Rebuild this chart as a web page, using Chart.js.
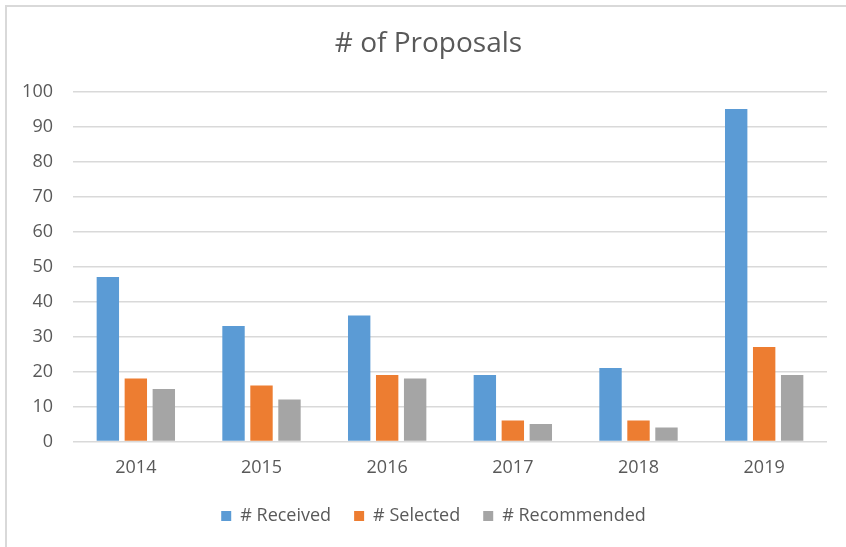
<!DOCTYPE html>
<html>
<head>
<meta charset="utf-8">
<script src="https://cdn.jsdelivr.net/npm/chart.js@4"></script>
<style>
    body { margin: 0; background: #ffffff; }
    #frame {
        position: absolute; left: 5px; top: 5px; width: 841px; height: 542px;
        border-top: 2px solid #d9d9d9; border-left: 2px solid #d9d9d9;
    }
    #wrap { position: absolute; left: 0; top: 0; width: 846px; height: 547px; }
</style>
</head>
<body>
<div id="frame"></div>
<div id="wrap"><canvas id="grafico" width="846" height="547"></canvas></div>
<script>
// Dados do gráfico
const anos = ['2014', '2015', '2016', '2017', '2018', '2019'];
const recebidas = [47, 33, 36, 19, 21, 95];
const selecionadas = [18, 16, 19, 6, 6, 27];
const recomendadas = [15, 12, 18, 5, 4, 19];

const CORES = {
    azul: '#5b9bd5',
    laranja: '#ed7d31',
    cinza: '#a5a5a5',
    grade: '#d9d9d9',
    texto: '#595959'
};

const FONTE = '"Open Sans", "Liberation Sans", sans-serif';

function serie(label, dados, cor) {
    return {
        label: label,
        data: dados,
        backgroundColor: cor,
        borderWidth: 0,
        categoryPercentage: 0.668,
        barPercentage: 0.8
    };
}

// Centraliza título e legenda no quadro inteiro (como no original)
const deslocaCaixas = {
    id: 'deslocaCaixas',
    afterLayout(chart) {
        if (chart.titleBlock) {
            chart.titleBlock.left += 15;
            chart.titleBlock.right += 15;
        }
        if (chart.legend) {
            chart.legend.left += 20;
            chart.legend.right += 20;
        }
    }
};

new Chart(document.getElementById('grafico'), {
    type: 'bar',
    data: {
        labels: anos,
        datasets: [
            serie('# Received', recebidas, CORES.azul),
            serie('# Selected', selecionadas, CORES.laranja),
            serie('# Recommended', recomendadas, CORES.cinza)
        ]
    },
    plugins: [deslocaCaixas],
    options: {
        responsive: false,
        animation: false,
        layout: {
            padding: { left: 0, right: 19, top: 0, bottom: 12 }
        },
        plugins: {
            title: {
                display: true,
                text: '# of Proposals',
                color: CORES.texto,
                font: { family: FONTE, size: 28, weight: 'normal' },
                padding: { top: 27, bottom: 31 }
            },
            legend: {
                position: 'bottom',
                labels: {
                    color: CORES.texto,
                    font: { family: FONTE, size: 18 },
                    boxWidth: 10,
                    boxHeight: 10,
                    padding: 23
                }
            },
            tooltip: { enabled: false }
        },
        scales: {
            x: {
                afterFit: function(escala) { escala.height -= 3; },
                grid: { display: false },
                border: { display: false },
                ticks: {
                    color: CORES.texto,
                    font: { family: FONTE, size: 18 },
                    padding: 8
                }
            },
            y: {
                min: 0,
                max: 100,
                afterFit: function(escala) { escala.width = 73; },
                grid: { color: CORES.grade, lineWidth: 1.5, drawTicks: false },
                border: { display: false },
                ticks: {
                    stepSize: 10,
                    color: CORES.texto,
                    font: { family: FONTE, size: 18 },
                    padding: 20
                }
            }
        }
    }
});
</script>
</body>
</html>
